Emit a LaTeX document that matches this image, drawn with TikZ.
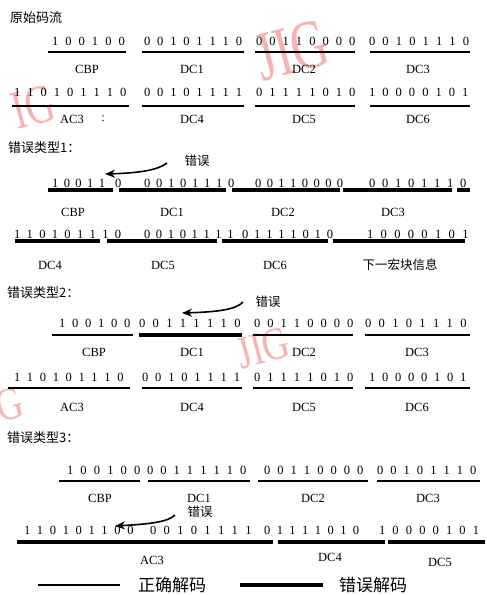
\documentclass[tikz,border=0pt]{standalone}
\usepackage{fontspec}
\setmainfont{Liberation Serif}
\newfontfamily\cjk{Noto Sans CJK SC}
\usetikzlibrary{arrows.meta}
\definecolor{wmpink}{RGB}{247,178,178}
\newlength\bitp
\newcommand\bitseq[2]{\setlength\bitp{#1pt}\bitloop#2\relax}
\def\bitloop#1{\ifx#1\relax\else\makebox[\bitp]{#1}\expandafter\bitloop\fi}
\tikzset{
  bits/.style={inner sep=0pt, anchor=west, font=\fontsize{12.5}{13}\selectfont},
  lab/.style={inner sep=0pt, font=\fontsize{12.5}{13}\selectfont},
  ttl/.style={inner sep=0pt, anchor=west, font=\cjk\fontsize{13}{14}\selectfont},
  okline/.style={line width=1.5pt},
  badline/.style={line width=3.2pt},
  errlab/.style={inner sep=0pt, font=\cjk\fontsize{12.5}{13}\selectfont},
  errarr/.style={line width=1.6pt, -{Stealth[length=10pt,width=8pt]}},
  wm/.style={text=wmpink, inner sep=0pt, rotate=15},
  legtxt/.style={inner sep=0pt, font=\cjk\fontsize{17}{18}\selectfont},
}
\newcommand\bitnode[5]{\node[bits] (#1) at ({#2-#4/2},#3) {\bitseq{#4}{#5}};}
\begin{document}
\begin{tikzpicture}[x=1pt,y=-1pt]
\useasboundingbox (0,0) rectangle (487,595);
\fill[white] (0,0) rectangle (487,595);
\clip (0,0) rectangle (487,595);
% watermarks
\node[wm] (wm1) at (292,50) {\scalebox{0.72}[1]{\fontsize{70}{70}\selectfont JIG}};
\node[wm] (wm2) at (33,107) {\scalebox{0.72}[1]{\fontsize{55}{55}\selectfont IG}};
\node[wm] (wm3) at (263,348) {\scalebox{0.8}[1]{\fontsize{46}{46}\selectfont JIG}};
\node[wm] (wm4) at (9,405) {\scalebox{0.8}[1]{\fontsize{46}{46}\selectfont G}};

% ---------- section 0
\node[ttl] (t0) at (10,18) {原始码流};
\bitnode{a1}{55}{41}{13.3}{100100}
\bitnode{a2}{147}{41}{13.1}{00101110}
\bitnode{a3}{259}{41}{13.3}{00110000}
\bitnode{a4}{372}{41}{13.4}{00101110}
\draw[okline] (48,52) -- (126,52);
\draw[okline] (142,52) -- (244,52);
\draw[okline] (255,52) -- (355,52);
\draw[okline] (370,52) -- (470,52);
\node[lab] (la1) at (87,69) {CBP};
\node[lab] (la2) at (192,69) {DC1};
\node[lab] (la3) at (304,69) {DC2};
\node[lab] (la4) at (418,69) {DC3};
\bitnode{b1}{17}{92}{13.25}{110101110}
\bitnode{b2}{147}{92}{13.1}{00101111}
\bitnode{b3}{259}{92}{13.3}{01111010}
\bitnode{b4}{372}{92}{13.3}{10000101}
\draw[okline] (12,106) -- (129,106);
\draw[okline] (142,106) -- (244,106);
\draw[okline] (255,106) -- (355,106);
\draw[okline] (370,106) -- (470,106);
\node[lab] (lb1) at (72,119) {AC3};
\node[lab] (lb0) at (103,119) {:};
\node[lab] (lb2) at (192,119) {DC4};
\node[lab] (lb3) at (304,119) {DC5};
\node[lab] (lb4) at (418,119) {DC6};

% ---------- section 1
\node[ttl] (t1) at (8,148) {错误类型1：};
\node[errlab] (e1l) at (197,161) {错误};
\coordinate (s1) at (167,163);
\coordinate (e1) at (105,174);
\bitnode{c1}{55}{183}{11.7}{10011}
\bitnode{c1b}{118}{183}{12}{0}
\bitnode{c2}{147}{183}{12}{00101110}
\bitnode{c3}{258}{183}{11.7}{00110000}
\bitnode{c4}{372}{183}{13}{00101110}
\draw[errarr] (s1) .. controls (158,170) and (140,173) .. (e1);
\draw[badline] (48,190) -- (113,190);
\draw[badline] (119,190) -- (226,190);
\draw[badline] (232,190) -- (340,190);
\draw[badline] (343,190) -- (452,190);
\draw[badline] (457,190) -- (470,190);
\node[lab] (lc1) at (73,212) {CBP};
\node[lab] (lc2) at (172,212) {DC1};
\node[lab] (lc3) at (283,212) {DC2};
\node[lab] (lc4) at (393,212) {DC3};
\bitnode{d1}{17}{234}{12.6}{110101110}
\bitnode{d2}{147}{234}{11.9}{00101111}
\bitnode{d3}{245}{234}{12.1}{01111010}
\bitnode{d4}{370}{234}{13.6}{10000101}
\draw[badline] (15,241) -- (100,241);
\draw[badline] (107,241) -- (217,241);
\draw[badline] (222,241) -- (328,241);
\draw[badline] (333,241) -- (465,241);
\node[lab] (ld1) at (50,265) {DC4};
\node[lab] (ld2) at (163,265) {DC5};
\node[lab] (ld3) at (275,265) {DC6};
\node[errlab] (ld4) at (400,265) {下一宏块信息};

% ---------- section 2
\node[ttl] (t2) at (7,293) {错误类型2：};
\node[errlab] (e2l) at (268,302) {错误};
\coordinate (s2) at (243,302);
\coordinate (e2) at (182,313);
\bitnode{f1}{62}{323}{13}{100100}
\bitnode{f2}{142}{323}{13.6}{00111110}
\bitnode{f3}{257}{323}{13.3}{00110000}
\bitnode{f4}{368}{323}{13.6}{00101110}
\draw[errarr] (s2) .. controls (236,310) and (215,312) .. (e2);
\draw[okline] (52,335) -- (133,335);
\draw[badline] (139,335) -- (242,335);
\draw[okline] (253,335) -- (353,335);
\draw[okline] (365,335) -- (470,335);
\node[lab] (lf1) at (94,352) {CBP};
\node[lab] (lf2) at (192,352) {DC1};
\node[lab] (lf3) at (304,352) {DC2};
\node[lab] (lf4) at (417,352) {DC3};
\bitnode{g1}{17}{377}{12.9}{110101110}
\bitnode{g2}{145}{377}{13.1}{00101111}
\bitnode{g3}{257}{377}{13.3}{01111010}
\bitnode{g4}{372}{377}{13}{10000101}
\draw[okline] (8,388) -- (130,388);
\draw[okline] (142,388) -- (242,388);
\draw[okline] (253,388) -- (353,388);
\draw[okline] (365,388) -- (470,388);
\node[lab] (lg1) at (72,407) {AC3};
\node[lab] (lg2) at (192,407) {DC4};
\node[lab] (lg3) at (304,407) {DC5};
\node[lab] (lg4) at (417,407) {DC6};

% ---------- section 3
\node[ttl] (t3) at (7,438) {错误类型3：};
\bitnode{h1}{70}{470}{13.4}{100100}
\bitnode{h2}{150}{470}{13.3}{00111110}
\bitnode{h3}{267}{470}{13.3}{00110000}
\bitnode{h4}{380}{470}{13.3}{00101110}
\draw[okline] (59,481) -- (140,481);
\draw[okline] (148,481) -- (250,481);
\draw[okline] (258,481) -- (368,481);
\draw[okline] (377,481) -- (480,481);
\node[lab] (lh1) at (100,498) {CBP};
\node[lab] (lh2) at (199,498) {DC1};
\node[lab] (lh3) at (313,498) {DC2};
\node[lab] (lh4) at (428,498) {DC3};
\node[errlab] (e3l) at (200,512) {错误};
\coordinate (s3) at (175,515);
\coordinate (e3) at (115,526);
\bitnode{k1}{27}{530}{12.9}{110101100}
\bitnode{k2}{153}{530}{13.6}{00101111}
\bitnode{k3}{267}{530}{12.7}{01111010}
\bitnode{k4}{382}{530}{13.4}{10000101}
\draw[errarr] (s3) .. controls (168,522) and (150,524) .. (e3);
\draw[badline] (17,542) -- (273,542);
\draw[badline] (278,542) -- (385,542);
\draw[badline] (388,542) -- (485,542);
\node[lab] (lk1) at (152,560) {AC3};
\node[lab] (lk2) at (330,557) {DC4};
\node[lab] (lk3) at (440,562) {DC5};

% ---------- legend
\draw[okline] (38,585) -- (120,585);
\node[legtxt] (leg1) at (172,585) {正确解码};
\draw[badline] (240,585) -- (323,585);
\node[legtxt] (leg2) at (373,585) {错误解码};
\end{tikzpicture}
\end{document}
